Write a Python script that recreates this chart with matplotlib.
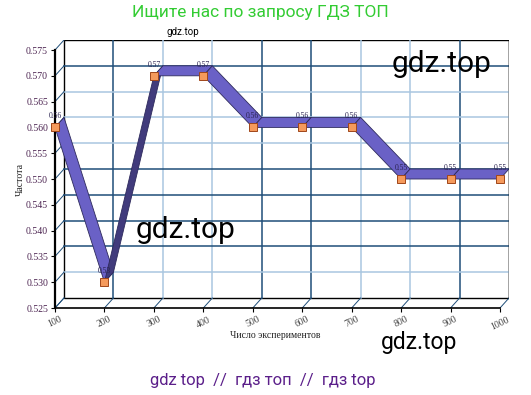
import matplotlib
matplotlib.use('Agg')
import matplotlib.pyplot as plt
from matplotlib.patches import Polygon, Rectangle

# data
trials = [100, 200, 300, 400, 500, 600, 700, 800, 900, 1000]
freq = [0.56, 0.53, 0.57, 0.57, 0.56, 0.56, 0.56, 0.55, 0.55, 0.55]
y_ticks = [0.525, 0.530, 0.535, 0.540, 0.545, 0.550, 0.555, 0.560, 0.565, 0.570, 0.575]

DX, DY = 18.2, 0.00194   # fake 3d depth, in data units
DARK, LIGHT = '#1F4E79', '#A9C6E0'
vgrid_style = [DARK, LIGHT, LIGHT, DARK, DARK, LIGHT, LIGHT, DARK]
hgrid_style = [LIGHT, DARK, DARK, DARK, DARK, LIGHT, LIGHT, LIGHT, DARK]

fig = plt.figure(figsize=(5.31, 3.95), dpi=100)
W, H = 531, 395
ax = fig.add_axes([55/W, 87/H, (509-55)/W, (308-40)/H])
ax.set_xlim(100, 1000+DX)
ax.set_ylim(0.525, 0.575+DY)
ax.patch.set_alpha(0)
for s in ['top', 'right']:
    ax.spines[s].set_visible(False)
ax.spines['left'].set_bounds(0.525, 0.575)
ax.spines['left'].set_linewidth(1.6)
ax.spines['bottom'].set_bounds(100, 1000)
ax.spines['bottom'].set_linewidth(1.2)

# back wall
ax.add_patch(Rectangle((100+DX, 0.525+DY), 900, 0.05, facecolor='white',
                       edgecolor='black', lw=1.0, zorder=1))
for x, c in zip(trials[1:-1], vgrid_style):
    ax.plot([x+DX, x+DX], [0.525+DY, 0.575+DY], color=c, lw=1.1, zorder=1.5)
for y, c in zip(y_ticks[1:-1], hgrid_style):
    ax.plot([100+DX, 1000+DX], [y+DY, y+DY], color=c, lw=1.1, zorder=1.5)
# depth lines at the edges
for y in y_ticks:
    ax.plot([100, 100+DX], [y, y+DY], color=DARK, lw=0.7, zorder=1.5)
for x in trials:
    ax.plot([x, x+DX], [0.525, 0.525+DY], color=DARK, lw=0.7, zorder=1.5)
ax.plot([1000+DX, 1000+DX], [0.525+DY, 0.575+DY], color='black', lw=1.0, zorder=1.6)

# ribbon
for i in range(len(trials)-1):
    x0, x1 = trials[i], trials[i+1]
    y0, y1 = freq[i], freq[i+1]
    face = '#413B7C' if y1 > y0 else '#6A61C6'
    ax.add_patch(Polygon([(x0, y0), (x1, y1), (x1+DX, y1+DY), (x0+DX, y0+DY)],
                         closed=True, facecolor=face, edgecolor='#2E2A5C',
                         lw=0.6, zorder=3))

ax.plot(trials, freq, ls='none', marker='s', ms=5.5, mfc='#F59A5C',
        mec='#A0461A', mew=0.7, zorder=6, clip_on=False)
for x, y in zip(trials, freq):
    ax.annotate(f"{y:.2f}", (x, y), xytext=(0, 5), textcoords='offset points',
                ha='center', va='bottom', fontsize=5.5, family='Liberation Serif',
                color='#2A2250', zorder=5)

ax.set_yticks(y_ticks)
ax.set_yticklabels([f"{v:.3f}" for v in y_ticks], family='Liberation Serif',
                   fontsize=7, color='#4B2350')
ax.set_xticks(trials)
ax.set_xticklabels([str(t) for t in trials], family='Liberation Serif',
                   fontsize=7, color='#444444', rotation=25, ha='center')
ax.tick_params(axis='both', direction='out', length=3, width=0.8, pad=2)

# texts
def px(x, y):
    return x / W, 1 - y / H

fig.text(*px(20, 180), "Частота", rotation=90, ha='center', va='center',
         family='Liberation Serif', fontsize=7, color='#222222')
fig.text(*px(275, 336), "Число экспериментов", ha='center', va='center',
         family='Liberation Serif', fontsize=7, color='#222222')
fig.text(*px(183, 32), "gdz.top", ha='center', va='center',
         family='Roboto', fontsize=7, color='black')
fig.text(*px(260, 13), "Ищите нас по запросу ГДЗ ТОП", ha='center', va='center',
         family='Roboto', fontsize=12.5, color='#33CC33')
fig.text(*px(442, 64), "gdz.top", ha='center', va='center',
         family='Roboto', fontsize=21.5, color='black')
fig.text(*px(186, 230), "gdz.top", ha='center', va='center',
         family='Roboto', fontsize=21.5, color='black')
fig.text(*px(419, 342), "gdz.top", ha='center', va='center',
         family='Roboto', fontsize=16.5, color='black')
fig.text(*px(263, 380), "gdz top  //  гдз топ  //  гдз top", ha='center',
         va='center', family='Roboto', fontsize=12, color='#5B1F8A')

fig.savefig("out.png", dpi=100)
